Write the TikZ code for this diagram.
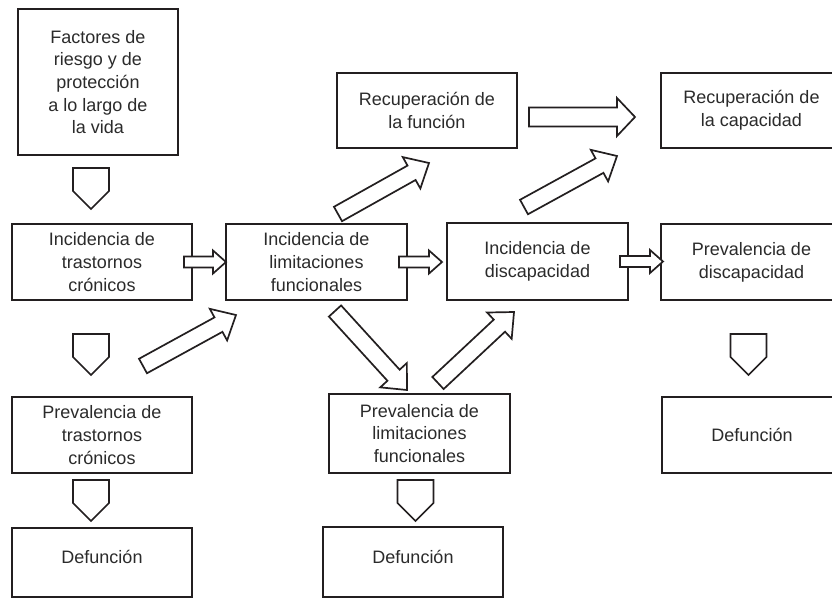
\documentclass[tikz,border=0pt]{standalone}
\usepackage{fontspec}
\setmainfont{Liberation Sans}
\usetikzlibrary{calc}
\definecolor{ink}{HTML}{231F20}
\definecolor{txtc}{HTML}{2B2B2B}
\tikzset{
  box/.style={draw=ink, line width=2.2pt, rectangle, align=center, text=txtc,
    font=\fontsize{18}{22.7}\selectfont, inner sep=0pt},
  lbl/.style={align=center, text=txtc, font=\fontsize{18}{22.7}\selectfont, inner sep=0pt},
  barrow/.style={draw=ink, line width=1.7pt, fill=white, line join=miter},
  pent/.style={draw=ink, line width=1.7pt, fill=white, line join=miter},
}
% block arrow: tail, tip, shaft half width, head half width, head length
\newcommand\blockarr[5]{%
  \coordinate (ba-h) at ($(#2)!#5!(#1)$);
  \draw[barrow] ($(#1)!#3!90:(#2)$) -- ($(ba-h)!#3!90:(#2)$) -- ($(ba-h)!#4!90:(#2)$)
    -- (#2) -- ($(ba-h)!#4!-90:(#2)$) -- ($(ba-h)!#3!-90:(#2)$) -- ($(#1)!#3!-90:(#2)$) -- cycle;}
\newcommand\pentarr[1]{\draw[pent] (#1) ++(-18,0) -- ++(36,0) -- ++(0,23) -- ++(-18,18) -- ++(-18,-18) -- cycle;}
\begin{document}
\begin{tikzpicture}[x=1pt, y=-1pt]
\clip (0,0) rectangle (832,598);
\fill[white] (0,0) rectangle (832,598);
% boxes
\node[box, minimum width=160, minimum height=146] (b1) at (98,82)
  {Factores de\\riesgo y de\\protección\\a lo largo de\\la vida};
\node[box, minimum width=180, minimum height=76] (b2) at (102,262)
  {Incidencia de\\trastornos\\crónicos};
\node[box, minimum width=181, minimum height=76] (b3) at (316.5,262)
  {Incidencia de\\limitaciones\\funcionales};
\node[box, minimum width=180, minimum height=75] (b4) at (427,110.5)
  {Recuperación de\\la función};
\node[box, minimum width=181, minimum height=75] (b5) at (751.5,110.5)
  {Recuperación de\\la capacidad};
\node[box, minimum width=181, minimum height=77] (b6) at (537.5,261.5)
  {Incidencia de\\discapacidad};
\node[box, minimum width=181, minimum height=76] (b7) at (751.5,262)
  {Prevalencia de\\discapacidad};
\node[box, minimum width=180, minimum height=76] (b8) at (102,435)
  {Prevalencia de\\trastornos\\crónicos};
\node[box, minimum width=180, minimum height=69] (b9) at (102,562.5) {};
\node[lbl] (b9t) at (102,557) {Defunción};
\node[box, minimum width=181, minimum height=79] (b10) at (419.5,433.5)
  {Prevalencia de\\limitaciones\\funcionales};
\node[box, minimum width=180, minimum height=70] (b11) at (413,562) {};
\node[lbl] (b11t) at (413,557) {Defunción};
\node[box, minimum width=180, minimum height=76] (b12) at (752,435) {Defunción};
% down arrows
\coordinate (p1) at (91,168);
\coordinate (p2) at (91,334);
\coordinate (p3) at (91,480);
\coordinate (p4) at (415.5,480);
\coordinate (p5) at (748.5,334);
\pentarr{p1}\pentarr{p2}\pentarr{p3}\pentarr{p4}\pentarr{p5}
% horizontal arrows
\coordinate (h1a) at (184,262); \coordinate (h1b) at (226,262);
\coordinate (h2a) at (399,262); \coordinate (h2b) at (442,262);
\coordinate (h3a) at (620,261.5); \coordinate (h3b) at (663,261.5);
\coordinate (h4a) at (529,117); \coordinate (h4b) at (635,117);
\blockarr{h1a}{h1b}{5.5pt}{11.5pt}{13pt}
\blockarr{h2a}{h2b}{5.5pt}{11.5pt}{13pt}
\blockarr{h3a}{h3b}{5.5pt}{11.5pt}{13pt}
\blockarr{h4a}{h4b}{9.5pt}{19pt}{18pt}
% diagonal arrows
\coordinate (d1a) at (143,366); \coordinate (d1b) at (236,315);
\coordinate (d2a) at (338,214); \coordinate (d2b) at (429,163);
\coordinate (d3a) at (335,311); \coordinate (d3b) at (407,390);
\coordinate (d4a) at (438,383); \coordinate (d4b) at (514,312);
\coordinate (d5a) at (524,207); \coordinate (d5b) at (617,156);
\blockarr{d1a}{d1b}{8.25pt}{18pt}{20pt}
\blockarr{d2a}{d2b}{8.25pt}{18pt}{20pt}
\blockarr{d3a}{d3b}{8.25pt}{18pt}{20pt}
\blockarr{d4a}{d4b}{8.25pt}{18pt}{20pt}
\blockarr{d5a}{d5b}{8.25pt}{18pt}{20pt}
\end{tikzpicture}
\end{document}
